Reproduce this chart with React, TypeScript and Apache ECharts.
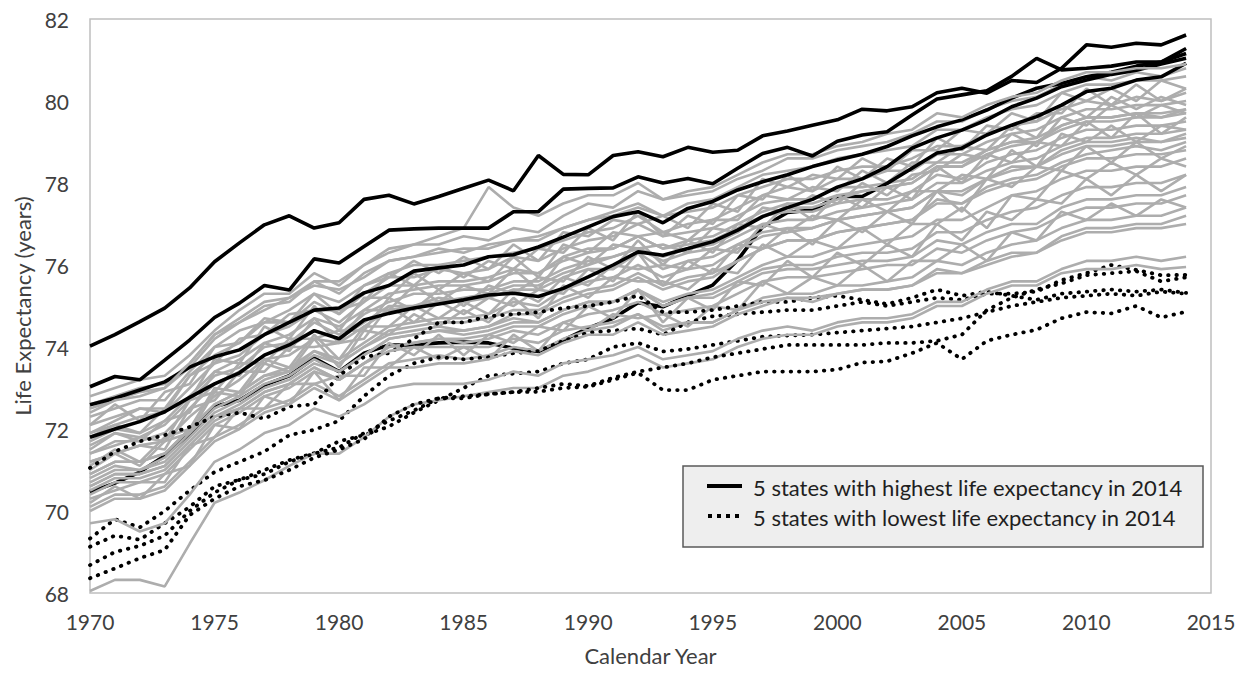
import React, { useEffect, useRef } from "react";
import * as echarts from "echarts";

// Calendar years 1970..2014 (45 yearly observations)
const years: number[] = Array.from({ length: 45 }, (_, i) => 1970 + i);

const LEGEND_HIGH = "5 states with highest life expectancy in 2014";
const LEGEND_LOW = "5 states with lowest life expectancy in 2014";

// 5 states with highest life expectancy in 2014 (solid black)
const high1 = [74.02, 74.3, 74.62, 74.95, 75.44, 76.08, 76.54, 76.98, 77.2, 76.9, 77.03, 77.6, 77.7, 77.49, 77.67, 77.87, 78.07, 77.81, 78.67, 78.21, 78.2, 78.67, 78.76, 78.64, 78.87, 78.75, 78.8, 79.15, 79.27, 79.41, 79.54, 79.8, 79.76, 79.86, 80.2, 80.31, 80.19, 80.5, 80.45, 80.8, 81.37, 81.31, 81.41, 81.37, 81.61];
const high2 = [73.03, 73.28, 73.2, 73.68, 74.17, 74.72, 75.07, 75.5, 75.39, 76.15, 76.05, 76.45, 76.85, 76.88, 76.9, 76.9, 76.9, 77.3, 77.3, 77.85, 77.87, 77.88, 78.15, 78.0, 78.11, 77.98, 78.36, 78.72, 78.87, 78.66, 79.02, 79.17, 79.25, 79.66, 80.05, 80.15, 80.25, 80.6, 81.04, 80.76, 80.8, 80.85, 80.95, 80.95, 81.28];
const high3 = [72.59, 72.75, 72.95, 73.15, 73.51, 73.76, 73.93, 74.3, 74.6, 74.9, 74.95, 75.32, 75.5, 75.85, 75.93, 76.0, 76.2, 76.25, 76.44, 76.68, 76.93, 77.18, 77.3, 77.03, 77.38, 77.55, 77.83, 78.03, 78.2, 78.4, 78.56, 78.7, 78.89, 79.15, 79.37, 79.54, 79.78, 80.07, 80.31, 80.43, 80.59, 80.7, 80.85, 80.95, 81.16];
const high4 = [71.8, 72.0, 72.18, 72.42, 72.77, 73.1, 73.37, 73.8, 74.05, 74.4, 74.2, 74.66, 74.82, 74.95, 75.05, 75.15, 75.27, 75.31, 75.23, 75.43, 75.71, 76.0, 76.32, 76.24, 76.4, 76.57, 76.85, 77.18, 77.4, 77.6, 77.9, 78.1, 78.4, 78.85, 79.1, 79.29, 79.54, 79.86, 80.07, 80.35, 80.51, 80.65, 80.75, 80.9, 81.04];
const high5 = [70.46, 70.68, 70.95, 71.35, 71.88, 72.55, 72.7, 73.07, 73.3, 73.73, 73.4, 73.85, 74.05, 74.05, 74.1, 74.12, 74.1, 73.97, 73.89, 74.17, 74.46, 74.7, 75.08, 74.98, 75.25, 75.51, 76.12, 76.93, 77.28, 77.34, 77.67, 77.67, 77.99, 78.36, 78.73, 78.85, 79.17, 79.41, 79.62, 79.9, 80.23, 80.31, 80.51, 80.59, 80.92];

// 5 states with lowest life expectancy in 2014 (dotted black)
const low1 = [71.05, 71.45, 71.7, 71.85, 72.05, 72.3, 72.4, 72.25, 72.55, 72.6, 73.3, 73.76, 73.85, 74.2, 74.6, 74.6, 74.75, 74.8, 74.85, 74.95, 75.0, 75.1, 75.25, 74.85, 74.85, 74.9, 75.0, 75.1, 75.1, 75.2, 75.25, 75.15, 75.05, 75.2, 75.4, 75.25, 75.35, 75.25, 75.15, 75.3, 75.35, 75.4, 75.35, 75.4, 75.32];
const low2 = [69.33, 69.8, 69.6, 70.0, 70.5, 70.95, 71.2, 71.45, 71.85, 71.98, 72.2, 72.8, 73.3, 73.6, 73.75, 73.7, 73.75, 73.85, 73.9, 74.15, 74.35, 74.4, 74.45, 74.3, 74.6, 74.75, 74.8, 74.85, 74.9, 74.9, 75.0, 75.1, 75.0, 75.1, 75.2, 75.15, 75.3, 75.3, 75.35, 75.63, 75.8, 76.0, 75.88, 75.75, 75.76];
const low3 = [69.13, 69.4, 69.3, 69.7, 70.1, 70.6, 70.76, 71.0, 71.24, 71.41, 71.7, 71.85, 72.06, 72.4, 72.7, 73.0, 73.3, 73.35, 73.4, 73.6, 73.7, 74.0, 74.1, 73.89, 73.95, 74.05, 74.15, 74.25, 74.28, 74.3, 74.35, 74.4, 74.45, 74.5, 74.6, 74.7, 74.85, 75.0, 75.1, 75.2, 75.25, 75.3, 75.25, 75.35, 75.3];
const low4 = [68.68, 69.0, 69.15, 69.4, 70.0, 70.45, 70.76, 70.9, 71.2, 71.4, 71.55, 71.9, 72.2, 72.45, 72.75, 72.8, 72.85, 72.9, 73.0, 73.1, 73.05, 73.25, 73.4, 73.5, 73.6, 73.75, 73.85, 73.95, 74.05, 74.05, 74.05, 74.05, 74.1, 74.1, 74.15, 74.3, 74.9, 75.2, 75.4, 75.55, 75.75, 75.8, 75.85, 75.6, 75.7];
const low5 = [68.36, 68.6, 68.85, 69.05, 69.9, 70.3, 70.6, 70.75, 71.0, 71.3, 71.5, 71.75, 72.3, 72.6, 72.75, 72.75, 72.85, 72.9, 72.91, 73.0, 73.03, 73.2, 73.37, 72.95, 72.95, 73.2, 73.3, 73.4, 73.4, 73.4, 73.45, 73.62, 73.65, 73.85, 74.1, 73.7, 74.15, 74.3, 74.42, 74.7, 74.85, 74.82, 75.0, 74.72, 74.86];

// Remaining states (grey)
const g01 = [72.8, 73.0, 73.2, 73.3, 73.8, 74.4, 74.9, 75.3, 75.3, 75.8, 75.5, 76.0, 76.4, 76.5, 76.5, 76.7, 76.6, 76.9, 76.8, 77.2, 77.5, 77.4, 77.8, 77.6, 77.7, 77.8, 78.1, 78.3, 78.6, 78.6, 78.8, 78.9, 79.0, 79.2, 79.5, 79.5, 79.8, 80.0, 80.1, 80.4, 80.6, 80.5, 80.7, 80.6, 80.8];
const g02 = [72.5, 72.7, 72.9, 73.0, 73.5, 74.2, 74.6, 74.9, 75.2, 75.5, 75.4, 75.7, 76.1, 76.2, 76.4, 76.3, 76.5, 76.6, 76.7, 76.9, 77.1, 77.3, 77.5, 77.2, 77.5, 77.6, 77.9, 78.2, 78.3, 78.4, 78.6, 78.7, 78.8, 78.9, 79.3, 79.3, 79.6, 79.8, 79.9, 80.2, 80.4, 80.4, 80.5, 80.5, 80.6];
const g03 = [72.1, 72.6, 72.2, 72.9, 73.1, 74.0, 74.1, 74.7, 74.6, 75.3, 74.8, 75.5, 75.7, 76.1, 75.8, 76.2, 75.9, 76.5, 76.1, 76.8, 76.7, 77.1, 77.0, 77.2, 76.9, 77.5, 77.3, 78.1, 77.9, 78.2, 78.1, 78.6, 78.3, 78.8, 78.8, 79.3, 79.2, 79.7, 79.5, 80.2, 80.0, 80.3, 80.0, 80.5, 80.3];
const g04 = [72.6, 72.8, 73.0, 73.1, 73.6, 74.3, 74.6, 75.0, 75.1, 75.6, 75.3, 75.8, 76.1, 76.2, 76.3, 76.4, 76.4, 76.6, 76.6, 76.9, 77.1, 77.2, 77.4, 77.2, 77.3, 77.4, 77.7, 77.9, 78.1, 78.1, 78.3, 78.4, 78.4, 78.6, 78.9, 78.9, 79.2, 79.4, 79.5, 79.8, 80.0, 79.9, 80.1, 80.0, 80.2];
const g05 = [71.9, 72.2, 72.5, 72.4, 73.3, 73.6, 74.2, 74.3, 74.8, 74.9, 74.9, 75.1, 75.8, 75.5, 76.0, 75.7, 76.1, 75.9, 76.4, 76.3, 76.9, 76.6, 77.3, 76.7, 77.2, 77.0, 77.7, 77.6, 78.2, 77.8, 78.4, 78.1, 78.6, 78.4, 79.1, 78.8, 79.4, 79.3, 79.7, 79.7, 80.3, 79.9, 80.4, 80.0, 80.3];
const g06 = [72.3, 72.5, 72.7, 72.7, 73.4, 74.0, 74.4, 74.6, 74.9, 75.3, 75.1, 75.5, 75.8, 76.0, 76.0, 76.1, 76.2, 76.3, 76.4, 76.6, 76.8, 76.9, 77.2, 76.8, 77.0, 77.1, 77.4, 77.7, 77.9, 77.8, 78.1, 78.1, 78.3, 78.3, 78.7, 78.7, 79.0, 79.2, 79.3, 79.6, 79.8, 79.8, 79.9, 79.9, 80.0];
const g07 = [71.8, 72.1, 71.9, 72.5, 72.7, 73.7, 73.6, 74.5, 74.2, 75.0, 74.4, 75.2, 75.2, 75.8, 75.4, 75.8, 75.6, 76.2, 75.7, 76.5, 76.3, 76.8, 76.7, 76.8, 76.6, 77.1, 77.1, 77.7, 77.6, 77.9, 77.8, 78.3, 78.0, 78.5, 78.5, 78.9, 78.8, 79.4, 79.1, 79.9, 79.6, 80.1, 79.8, 80.1, 79.9];
const g08 = [72.1, 72.3, 72.5, 72.5, 73.3, 73.8, 74.1, 74.6, 74.6, 75.1, 74.8, 75.3, 75.7, 75.7, 75.9, 75.8, 75.9, 76.2, 76.1, 76.4, 76.6, 76.7, 77.0, 76.7, 76.8, 76.9, 77.2, 77.5, 77.6, 77.6, 77.9, 77.9, 78.0, 78.1, 78.5, 78.5, 78.8, 79.0, 79.1, 79.4, 79.6, 79.6, 79.7, 79.6, 79.8];
const g09 = [71.7, 72.0, 71.9, 72.2, 72.8, 73.4, 73.7, 74.1, 74.3, 74.7, 74.5, 74.9, 75.3, 75.4, 75.5, 75.5, 75.6, 75.8, 75.8, 76.1, 76.3, 76.4, 76.7, 76.4, 76.6, 76.7, 77.0, 77.3, 77.5, 77.5, 77.7, 77.8, 77.9, 78.0, 78.4, 78.4, 78.7, 78.9, 79.0, 79.3, 79.5, 79.5, 79.6, 79.6, 79.7];
const g10 = [71.5, 71.9, 71.7, 72.2, 72.4, 73.4, 73.3, 74.1, 73.9, 74.7, 74.1, 74.9, 74.9, 75.5, 75.1, 75.5, 75.3, 75.9, 75.4, 76.2, 76.0, 76.5, 76.4, 76.5, 76.3, 76.9, 76.8, 77.4, 77.3, 77.7, 77.5, 78.0, 77.7, 78.2, 78.3, 78.7, 78.6, 79.2, 78.9, 79.6, 79.4, 79.9, 79.6, 79.9, 79.7];
const g11 = [71.9, 72.1, 72.3, 72.4, 73.0, 73.6, 73.8, 74.3, 74.5, 74.9, 74.6, 75.1, 75.5, 75.5, 75.6, 75.6, 75.7, 75.9, 75.8, 76.2, 76.4, 76.4, 76.7, 76.4, 76.5, 76.6, 76.9, 77.2, 77.3, 77.3, 77.5, 77.6, 77.6, 77.8, 78.2, 78.1, 78.5, 78.7, 78.8, 79.1, 79.3, 79.3, 79.4, 79.4, 79.5];
const g12 = [71.4, 71.6, 71.8, 71.7, 72.7, 72.9, 73.6, 73.6, 74.2, 74.2, 74.4, 74.4, 75.2, 74.9, 75.4, 75.0, 75.5, 75.3, 75.7, 75.6, 76.2, 75.9, 76.6, 76.0, 76.6, 76.3, 77.0, 76.9, 77.5, 77.1, 77.7, 77.4, 77.9, 77.6, 78.4, 78.0, 78.7, 78.5, 79.0, 78.9, 79.5, 79.1, 79.7, 79.2, 79.6];
const g13 = [71.2, 71.4, 71.6, 71.7, 72.3, 72.8, 73.2, 73.7, 73.8, 74.2, 74.1, 74.5, 74.9, 75.0, 75.1, 75.2, 75.3, 75.5, 75.5, 75.8, 76.0, 76.2, 76.4, 76.2, 76.4, 76.5, 76.8, 77.2, 77.4, 77.4, 77.6, 77.8, 77.9, 78.0, 78.4, 78.4, 78.8, 79.0, 79.0, 79.4, 79.6, 79.6, 79.7, 79.7, 79.8];
const g14 = [71.6, 71.9, 71.8, 72.1, 72.7, 73.3, 73.5, 74.0, 74.1, 74.6, 74.3, 74.8, 75.1, 75.3, 75.3, 75.4, 75.4, 75.6, 75.6, 75.9, 76.1, 76.2, 76.4, 76.1, 76.3, 76.4, 76.7, 77.0, 77.1, 77.1, 77.3, 77.4, 77.5, 77.6, 78.0, 78.0, 78.3, 78.5, 78.6, 78.9, 79.1, 79.1, 79.2, 79.2, 79.3];
const g15 = [71.1, 71.5, 71.2, 71.8, 72.0, 73.0, 72.9, 73.7, 73.5, 74.3, 73.7, 74.5, 74.5, 75.0, 74.7, 75.1, 74.8, 75.4, 75.1, 75.7, 75.5, 76.0, 75.9, 76.0, 75.9, 76.4, 76.3, 77.0, 76.8, 77.2, 77.1, 77.6, 77.3, 77.8, 77.8, 78.2, 78.1, 78.8, 78.4, 79.2, 79.0, 79.4, 79.0, 79.4, 79.3];
const g16 = [71.4, 71.7, 71.7, 71.9, 72.5, 73.1, 73.4, 73.8, 74.0, 74.4, 74.2, 74.6, 75.0, 75.0, 75.2, 75.1, 75.2, 75.4, 75.4, 75.7, 75.9, 75.9, 76.3, 75.9, 76.1, 76.2, 76.5, 76.8, 76.9, 76.9, 77.1, 77.2, 77.3, 77.4, 77.8, 77.7, 78.1, 78.3, 78.4, 78.7, 78.9, 78.9, 79.0, 79.0, 79.1];
const g17 = [70.9, 71.2, 71.2, 71.4, 72.0, 72.6, 72.9, 73.3, 73.5, 73.9, 73.7, 74.1, 74.5, 74.6, 74.7, 74.7, 74.8, 75.1, 75.0, 75.4, 75.6, 75.7, 76.0, 75.7, 75.9, 76.0, 76.4, 76.7, 76.8, 76.9, 77.1, 77.2, 77.3, 77.4, 77.8, 77.8, 78.1, 78.4, 78.4, 78.8, 79.0, 79.0, 79.1, 79.0, 79.2];
const g18 = [71.2, 71.4, 71.6, 71.5, 72.5, 72.7, 73.4, 73.4, 74.0, 74.0, 74.1, 74.2, 75.0, 74.6, 75.1, 74.8, 75.2, 75.0, 75.4, 75.3, 75.9, 75.6, 76.3, 75.5, 76.1, 75.8, 76.5, 76.4, 76.9, 76.5, 77.1, 76.8, 77.3, 77.0, 77.8, 77.3, 78.1, 77.9, 78.4, 78.3, 78.9, 78.5, 79.0, 78.6, 78.9];
const g19 = [70.8, 71.1, 71.0, 71.3, 71.9, 72.5, 72.8, 73.2, 73.4, 73.8, 73.6, 74.0, 74.4, 74.5, 74.6, 74.6, 74.7, 74.9, 74.9, 75.2, 75.4, 75.5, 75.8, 75.5, 75.7, 75.8, 76.1, 76.4, 76.6, 76.6, 76.8, 76.9, 77.0, 77.1, 77.5, 77.5, 77.8, 78.0, 78.1, 78.4, 78.6, 78.6, 78.7, 78.7, 78.8];
const g20 = [70.6, 70.9, 70.9, 71.1, 71.7, 72.3, 72.6, 73.0, 73.2, 73.6, 73.4, 73.8, 74.2, 74.3, 74.4, 74.4, 74.5, 74.8, 74.8, 75.1, 75.3, 75.4, 75.7, 75.4, 75.6, 75.7, 76.1, 76.4, 76.6, 76.6, 76.8, 76.9, 77.0, 77.1, 77.6, 77.5, 77.9, 78.1, 78.2, 78.5, 78.7, 78.8, 78.9, 78.8, 79.0];
const g21 = [71.0, 71.4, 71.1, 71.7, 71.9, 72.9, 72.8, 73.6, 73.4, 74.2, 73.5, 74.4, 74.3, 74.8, 74.5, 74.9, 74.6, 75.2, 74.7, 75.5, 75.2, 75.7, 75.6, 75.6, 75.4, 75.9, 75.8, 76.5, 76.2, 76.6, 76.4, 76.9, 76.5, 77.0, 77.0, 77.4, 76.9, 77.7, 77.6, 78.3, 78.1, 78.5, 78.2, 78.6, 78.4];
const g22 = [70.4, 70.7, 70.7, 70.9, 71.5, 72.1, 72.4, 72.8, 73.0, 73.4, 73.2, 73.6, 74.0, 74.1, 74.2, 74.2, 74.3, 74.5, 74.5, 74.8, 75.0, 75.1, 75.4, 75.1, 75.3, 75.4, 75.7, 76.0, 76.2, 76.2, 76.4, 76.5, 76.6, 76.7, 77.1, 77.1, 77.4, 77.7, 77.8, 78.1, 78.3, 78.3, 78.4, 78.4, 78.6];
const g23 = [70.7, 71.0, 71.0, 71.2, 71.8, 72.4, 72.7, 73.1, 73.3, 73.7, 73.4, 73.8, 74.2, 74.3, 74.4, 74.3, 74.4, 74.6, 74.6, 74.9, 75.1, 75.1, 75.4, 75.0, 75.2, 75.3, 75.6, 75.9, 76.0, 76.0, 76.2, 76.3, 76.3, 76.4, 76.8, 76.8, 77.1, 77.3, 77.4, 77.7, 77.9, 77.9, 78.0, 78.0, 78.2];
const g24 = [70.3, 70.5, 70.7, 70.7, 71.6, 71.8, 72.5, 72.5, 73.1, 73.1, 73.3, 73.3, 74.1, 73.8, 74.3, 73.8, 74.3, 74.1, 74.5, 74.4, 75.0, 74.7, 75.4, 74.6, 75.2, 74.9, 75.6, 75.5, 76.1, 75.7, 76.3, 76.0, 76.5, 76.2, 77.0, 76.6, 77.3, 77.1, 77.6, 77.5, 78.1, 77.7, 78.2, 77.8, 78.2];
const g25 = [70.9, 71.2, 71.2, 71.4, 72.0, 72.6, 72.9, 73.3, 73.4, 73.9, 73.6, 74.0, 74.3, 74.4, 74.5, 74.4, 74.5, 74.7, 74.6, 74.9, 75.1, 75.1, 75.4, 75.0, 75.2, 75.2, 75.5, 75.8, 75.9, 75.9, 76.0, 76.1, 76.1, 76.2, 76.6, 76.5, 76.8, 77.0, 77.0, 77.4, 77.6, 77.6, 77.7, 77.7, 77.9];
const g26 = [70.5, 70.8, 70.8, 71.0, 71.6, 72.2, 72.5, 72.9, 73.1, 73.5, 73.2, 73.6, 74.0, 74.1, 74.2, 74.1, 74.2, 74.4, 74.3, 74.6, 74.8, 74.9, 75.1, 74.8, 74.9, 75.0, 75.3, 75.6, 75.7, 75.7, 75.8, 75.9, 76.0, 76.0, 76.4, 76.3, 76.6, 76.8, 76.9, 77.2, 77.4, 77.4, 77.5, 77.5, 77.7];
const g27 = [70.2, 70.6, 70.3, 70.9, 71.1, 72.1, 72.0, 72.8, 72.6, 73.4, 72.7, 73.5, 73.5, 74.0, 73.7, 74.0, 73.7, 74.3, 73.9, 74.6, 74.4, 74.8, 74.7, 74.8, 74.5, 75.0, 74.9, 75.6, 75.3, 75.7, 75.5, 76.0, 75.6, 76.1, 76.1, 76.5, 76.1, 76.8, 76.6, 77.3, 77.1, 77.5, 77.2, 77.6, 77.4];
const g28 = [70.1, 70.4, 70.4, 70.6, 71.2, 71.8, 72.1, 72.5, 72.7, 73.1, 72.8, 73.2, 73.6, 73.7, 73.8, 73.7, 73.8, 74.0, 73.9, 74.2, 74.4, 74.5, 74.8, 74.4, 74.6, 74.6, 74.9, 75.2, 75.3, 75.3, 75.5, 75.5, 75.6, 75.7, 76.1, 76.0, 76.3, 76.5, 76.6, 76.9, 77.1, 77.1, 77.2, 77.2, 77.4];
const g29 = [70.6, 70.9, 70.9, 71.1, 71.7, 72.3, 72.5, 72.9, 73.1, 73.5, 73.2, 73.6, 73.9, 74.0, 74.0, 74.0, 74.0, 74.2, 74.1, 74.4, 74.5, 74.6, 74.8, 74.5, 74.6, 74.6, 74.9, 75.1, 75.2, 75.2, 75.3, 75.4, 75.4, 75.5, 75.8, 75.8, 76.0, 76.2, 76.3, 76.6, 76.8, 76.8, 76.9, 76.9, 77.0];
const g30 = [70.0, 70.3, 70.3, 70.5, 71.1, 71.7, 72.0, 72.4, 72.6, 73.0, 72.7, 73.1, 73.5, 73.5, 73.6, 73.6, 73.7, 73.9, 73.8, 74.1, 74.3, 74.3, 74.6, 74.3, 74.4, 74.5, 74.8, 75.0, 75.2, 75.1, 75.3, 75.4, 75.4, 75.5, 75.9, 75.8, 76.1, 76.3, 76.3, 76.7, 76.9, 76.9, 77.0, 77.0, 77.2];
const g31 = [69.7, 69.8, 69.5, 69.7, 70.4, 71.2, 71.5, 71.9, 72.1, 72.5, 72.3, 72.6, 73.0, 73.1, 73.1, 73.1, 73.2, 73.4, 73.3, 73.6, 73.7, 73.8, 74.0, 73.7, 73.8, 73.9, 74.2, 74.4, 74.5, 74.4, 74.6, 74.7, 74.7, 74.8, 75.1, 75.1, 75.4, 75.6, 75.6, 75.9, 76.1, 76.1, 76.2, 76.1, 76.2];
const g32 = [68.05, 68.32, 68.32, 68.16, 69.2, 70.2, 70.45, 70.75, 71.1, 71.4, 71.4, 71.8, 72.3, 72.6, 72.7, 72.8, 72.9, 73.0, 73.0, 73.3, 73.4, 73.6, 73.8, 73.5, 73.6, 73.7, 74.0, 74.2, 74.3, 74.3, 74.5, 74.6, 74.6, 74.7, 75.0, 75.0, 75.3, 75.5, 75.5, 75.8, 75.9, 75.9, 76.0, 75.9, 75.95];
const g33 = [72.4, 72.7, 72.8, 73.0, 73.6, 74.3, 74.7, 75.1, 75.2, 75.6, 75.6, 76.0, 76.3, 76.5, 76.7, 76.9, 77.9, 77.4, 77.2, 77.5, 77.7, 77.7, 78.0, 77.6, 77.8, 77.9, 78.2, 78.5, 78.7, 78.7, 78.9, 79.0, 79.2, 79.3, 79.7, 79.6, 79.9, 80.1, 80.2, 80.5, 80.7, 80.7, 80.8, 80.8, 80.9];

// drawing order (later lines are drawn over earlier ones)
type Kind = "grey" | "high" | "low";
const drawOrder: [Kind, number[]][] = [
  ["grey", g01], ["grey", g02], ["grey", g03], ["grey", g04], ["grey", g05], ["grey", g06], ["grey", g07], ["grey", g08],
  ["high", high5],
  ["grey", g09], ["grey", g10], ["grey", g11], ["grey", g12], ["grey", g13], ["grey", g14], ["grey", g15], ["grey", g16],
  ["high", high3],
  ["grey", g17], ["grey", g18], ["grey", g19], ["grey", g20], ["grey", g21], ["grey", g22],
  ["high", high4], ["low", low3],
  ["grey", g23], ["grey", g24], ["grey", g25], ["grey", g26], ["grey", g27], ["grey", g28],
  ["low", low1], ["low", low2],
  ["grey", g29], ["grey", g30], ["grey", g31], ["grey", g32], ["grey", g33],
  ["high", high1], ["high", high2], ["low", low4], ["low", low5],
];

const FONT = "Lato, 'Open Sans', 'DejaVu Sans', sans-serif";
const TEXT = "#404040";

export default function App() {
  const ref = useRef<HTMLDivElement>(null);
  useEffect(() => {
    document.body.style.margin = "0";
    if (!ref.current) return;
    const chart = echarts.init(ref.current, null, { renderer: "svg" });
    const series: any[] = drawOrder.map(([kind, vals], k) => {
      const data = vals.map((v, i) => [years[i], v]);
      const lineStyle =
        kind === "grey"
          ? { color: "#adadad", width: 2.6 }
          : kind === "high"
          ? { color: "#000000", width: 3.6 }
          : { color: "#000000", width: 3.8, type: [0.5, 7.8], cap: "round" };
      return {
        name: kind === "grey" ? "state" + k : kind === "high" ? LEGEND_HIGH : LEGEND_LOW,
        type: "line",
        data,
        symbol: "none",
        silent: true,
        lineStyle,
        emphasis: { disabled: true },
      };
    });

    chart.setOption({
      animation: false,
      grid: {
        left: 90,
        right: 30,
        top: 19,
        bottom: 81,
        show: true,
        borderColor: "#bfbfbf",
        borderWidth: 1.5,
        backgroundColor: "transparent",
      },
      xAxis: {
        type: "value",
        min: 1970,
        max: 2015,
        interval: 5,
        axisLine: { show: false },
        axisTick: { show: false },
        splitLine: { show: false },
        axisLabel: {
          color: TEXT,
          fontSize: 21,
          fontFamily: FONT,
          margin: 18,
          formatter: (v: number) => String(v),
        },
        name: "Calendar Year",
        nameLocation: "middle",
        nameGap: 51,
        nameTextStyle: { color: TEXT, fontSize: 22, fontFamily: FONT },
      },
      yAxis: {
        type: "value",
        min: 68,
        max: 82,
        interval: 2,
        axisLine: { show: false },
        axisTick: { show: false },
        splitLine: { show: false },
        axisLabel: { color: TEXT, fontSize: 21, fontFamily: FONT, margin: 21 },
        name: "Life Expectancy (years)",
        nameLocation: "middle",
        nameGap: 55,
        nameTextStyle: { color: TEXT, fontSize: 22, fontFamily: FONT },
      },
      series,
      graphic: [
        {
          type: "rect",
          shape: { x: 683, y: 466, width: 520, height: 81 },
          style: { fill: "#eeeeee", stroke: "#595959", lineWidth: 1.5 },
          z: 100,
        },
        {
          type: "line",
          shape: { x1: 707, y1: 486, x2: 742, y2: 486 },
          style: { stroke: "#000", lineWidth: 4 },
          z: 101,
        },
        {
          type: "line",
          shape: { x1: 708, y1: 516, x2: 742, y2: 516 },
          style: { stroke: "#000", lineWidth: 4, lineDash: [4, 5] },
          z: 101,
        },
        {
          type: "text",
          x: 753,
          y: 487,
          style: { text: LEGEND_HIGH, fill: "#1f1f1f", fontSize: 22, fontFamily: FONT, verticalAlign: "middle" },
          z: 101,
        },
        {
          type: "text",
          x: 753,
          y: 517,
          style: { text: LEGEND_LOW, fill: "#1f1f1f", fontSize: 22, fontFamily: FONT, verticalAlign: "middle" },
          z: 101,
        },
      ],
    });
    return () => chart.dispose();
  }, []);
  return <div ref={ref} style={{ width: 1241, height: 674 }} />;
}
